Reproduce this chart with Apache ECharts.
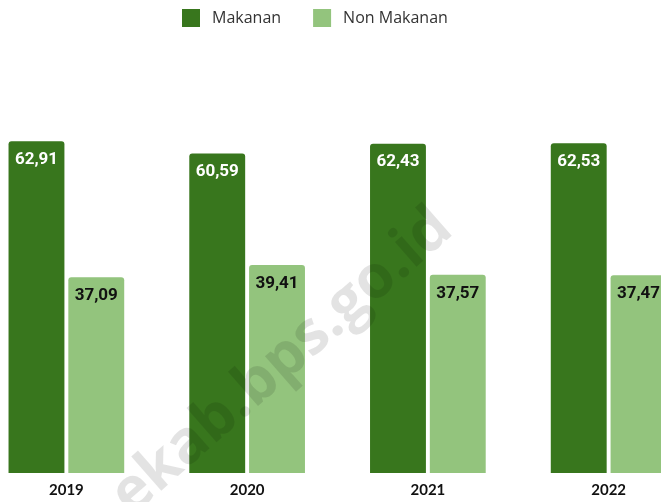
<!DOCTYPE html>
<html>
<head>
<meta charset="utf-8">
<script src="https://cdn.jsdelivr.net/npm/echarts@6/dist/echarts.min.js"></script>
<style>
  html, body { margin: 0; padding: 0; background: #fff; }
  #chart { width: 661px; height: 502px; }
</style>
</head>
<body>
<div id="chart"></div>
<script>
var years = ['2019', '2020', '2021', '2022'];
var makanan = [62.91, 60.59, 62.43, 62.53];
var nonMakanan = [37.09, 39.41, 37.57, 37.47];

var chart = echarts.init(document.querySelector('#chart'));

function fmt(p) {
    return p.value.toFixed(2).replace('.', ',');
}

var option = {
    animation: false,
    legend: {
        top: 4,
        left: 177,
        itemWidth: 18,
        itemHeight: 18,
        itemGap: 32,
        icon: 'rect',
        textStyle: { fontFamily: 'Open Sans', fontSize: 16, color: '#333', padding: [0, 0, 0, 7] },
        data: ['Makanan', 'Non Makanan']
    },
    grid: {
        top: 51,
        bottom: 29,
        left: -24,
        right: -38,
        outerBoundsMode: 'none',
        containLabel: false
    },
    xAxis: {
        type: 'category',
        data: years,
        axisLine: { show: false },
        axisTick: { show: false },
        axisLabel: {
            margin: 10,
            fontFamily: 'Lato',
            fontWeight: 'bold',
            fontSize: 15,
            color: '#111'
        }
    },
    yAxis: {
        type: 'value',
        min: 0,
        max: 80,
        show: false,
        splitLine: { show: false }
    },
    graphic: [{
        type: 'text',
        x: 282,
        y: 362,
        rotation: 0.72,
        z: 100,
        silent: true,
        style: {
            text: 'ekab.bps.go.id',
            fontFamily: 'Open Sans',
            fontWeight: 'bold',
            fontSize: 60,
            fill: 'rgba(0,0,0,0.11)',
            align: 'center',
            verticalAlign: 'middle'
        }
    }],
    series: [{
        name: 'Makanan',
        type: 'bar',
        data: makanan,
        barGap: '7%',
        barCategoryGap: '36%',
        itemStyle: { color: '#38761d', borderRadius: [3, 3, 0, 0] },
        label: {
            show: true,
            position: 'insideTop',
            distance: 10,
            formatter: fmt,
            fontFamily: 'Roboto',
            fontWeight: 'bold',
            fontSize: 17,
            color: '#fff'
        }
    }, {
        name: 'Non Makanan',
        type: 'bar',
        data: nonMakanan,
        itemStyle: { color: '#93c47d', borderRadius: [3, 3, 0, 0] },
        label: {
            show: true,
            position: 'insideTop',
            distance: 10,
            formatter: fmt,
            fontFamily: 'Roboto',
            fontWeight: 'bold',
            fontSize: 17,
            color: '#111'
        }
    }]
};

chart.setOption(option);
</script>
</body>
</html>
